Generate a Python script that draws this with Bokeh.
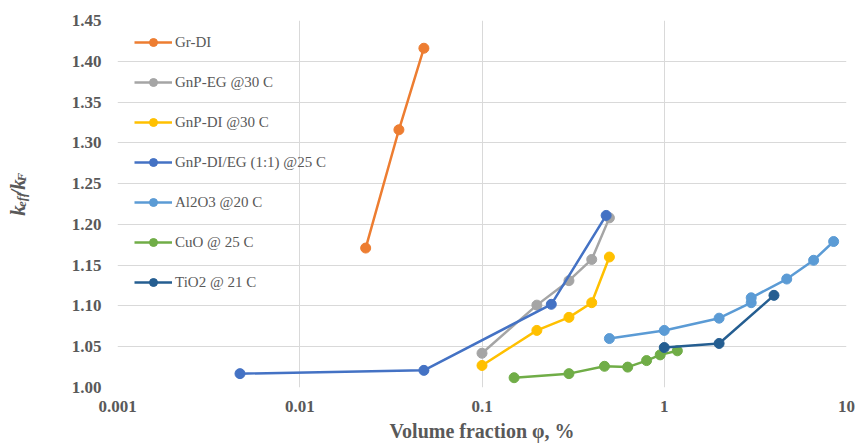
import math
from bokeh.plotting import figure
from bokeh.layouts import row
from bokeh.models import FixedTicker, CustomJSTickFormatter, Label, Legend
from bokeh.embed import file_html
from bokeh.resources import INLINE

# ---- data ----
series_names = ["Gr-DI", "GnP-EG @30 C", "GnP-DI @30 C", "GnP-DI/EG (1:1) @25 C",
                "Al2O3 @20 C", "CuO @ 25 C", "TiO2 @ 21 C"]
series_colors = ["#ED7D31", "#A5A5A5", "#FFC000", "#4472C4", "#5B9BD5", "#70AD47", "#255E91"]

gr_di_x = [0.023, 0.035, 0.048]
gr_di_y = [1.171, 1.316, 1.416]

gnp_eg_x = [0.1, 0.2, 0.3, 0.4, 0.5]
gnp_eg_y = [1.042, 1.101, 1.131, 1.157, 1.208]

gnp_di_x = [0.1, 0.2, 0.3, 0.4, 0.5]
gnp_di_y = [1.027, 1.070, 1.086, 1.104, 1.160]

gnp_mix_x = [0.0047, 0.048, 0.24, 0.48]
gnp_mix_y = [1.017, 1.021, 1.102, 1.211]

al2o3_x = [0.5, 1.0, 2.0, 3.0, 3.0, 4.7, 6.6, 8.5]
al2o3_y = [1.060, 1.070, 1.085, 1.104, 1.110, 1.133, 1.156, 1.179]

cuo_x = [0.15, 0.3, 0.47, 0.63, 0.8, 0.95, 1.18]
cuo_y = [1.012, 1.017, 1.026, 1.025, 1.033, 1.040, 1.045]

tio2_x = [1.0, 2.0, 4.0]
tio2_y = [1.049, 1.054, 1.113]

x_ticks = [0.001, 0.01, 0.1, 1, 10]
y_ticks = [1.00, 1.05, 1.10, 1.15, 1.20, 1.25, 1.30, 1.35, 1.40, 1.45]

series_x = [gr_di_x, gnp_eg_x, gnp_di_x, gnp_mix_x, al2o3_x, cuo_x, tio2_x]
series_y = [gr_di_y, gnp_eg_y, gnp_di_y, gnp_mix_y, al2o3_y, cuo_y, tio2_y]

# ---- figure ----
TXT = "#595959"
GRID = "#D9D9D9"
FONT = "Liberation Serif"
LABEL_W = 40
H = 444

p = figure(width=856 - LABEL_W, height=H, x_axis_type="log", x_range=(0.001, 10), y_range=(1.0, 1.45),
           output_backend="svg", toolbar_location=None,
           min_border_left=117 - LABEL_W, min_border_right=10, min_border_top=20, min_border_bottom=57)
p.outline_line_color = None
p.background_fill_color = "white"
p.border_fill_color = "white"

p.xaxis.ticker = FixedTicker(ticks=x_ticks, minor_ticks=[])
p.yaxis.ticker = FixedTicker(ticks=y_ticks, minor_ticks=[])
p.xgrid.ticker = FixedTicker(ticks=x_ticks, minor_ticks=[])
p.ygrid.ticker = FixedTicker(ticks=y_ticks, minor_ticks=[])
p.xaxis.formatter = CustomJSTickFormatter(code="return tick.toString();")
p.yaxis.formatter = CustomJSTickFormatter(code="return tick.toFixed(2);")
for g in (p.xgrid, p.ygrid):
    g.grid_line_color = GRID
    g.grid_line_width = 1

for ax in (p.xaxis, p.yaxis):
    ax.axis_line_color = None
    ax.major_tick_line_color = None
    ax.minor_tick_line_color = None
    ax.major_label_text_font = FONT
    ax.major_label_text_font_style = "bold"
    ax.major_label_text_font_size = "17px"
    ax.major_label_text_color = TXT

p.xaxis.major_label_standoff = 7
p.yaxis.major_label_standoff = 10
p.xaxis.axis_label = "Volume fraction φ, %"
p.xaxis.axis_label_text_font = FONT
p.xaxis.axis_label_text_font_style = "bold"
p.xaxis.axis_label_text_font_size = "20px"
p.xaxis.axis_label_text_color = TXT
p.xaxis.axis_label_standoff = 5

items = []
for name, col, xs, ys in zip(series_names, series_colors, series_x, series_y):
    r1 = p.line(xs, ys, line_color=col, line_width=2.5)
    r2 = p.scatter(xs, ys, marker="circle", size=10, fill_color=col, line_color=col)
    items.append((name, [r1, r2]))

legend = Legend(items=items, location=(17, 95))
legend.background_fill_alpha = 0
legend.border_line_alpha = 0
legend.padding = 0
legend.margin = 0
legend.spacing = 20
legend.label_height = 20
legend.glyph_height = 20
legend.glyph_width = 38
legend.label_standoff = 3
legend.label_text_font = FONT
legend.label_text_font_size = "15px"
legend.label_text_color = TXT
p.add_layout(legend, "center")

# ---- narrow side figure holding the y-axis title with subscripts ----
# its ranges equal its pixel size, so label positions are simple offsets
lf = figure(width=LABEL_W, height=H, x_range=(0, LABEL_W), y_range=(0, H),
            output_backend="svg", toolbar_location=None, min_border=0)
lf.axis.visible = False
lf.grid.visible = False
lf.outline_line_color = None
lf.background_fill_color = "white"
lf.border_fill_color = "white"

ang = math.pi / 2
pieces = [("k", 17, 214, "21px"), ("eff", 21, 227, "13px"), ("/k", 17, 242, "21px"), ("F", 21, 254.5, "13px")]
for txt, xx, yy, fs in pieces:
    lf.add_layout(Label(x=xx, y=yy, text=txt, angle=ang,
                        text_font=FONT, text_font_style="bold italic", text_font_size=fs,
                        text_color=TXT, text_align="center", text_baseline="middle"))

layout = row(lf, p, spacing=0)
open("out.html", "w").write(file_html(layout, INLINE))
